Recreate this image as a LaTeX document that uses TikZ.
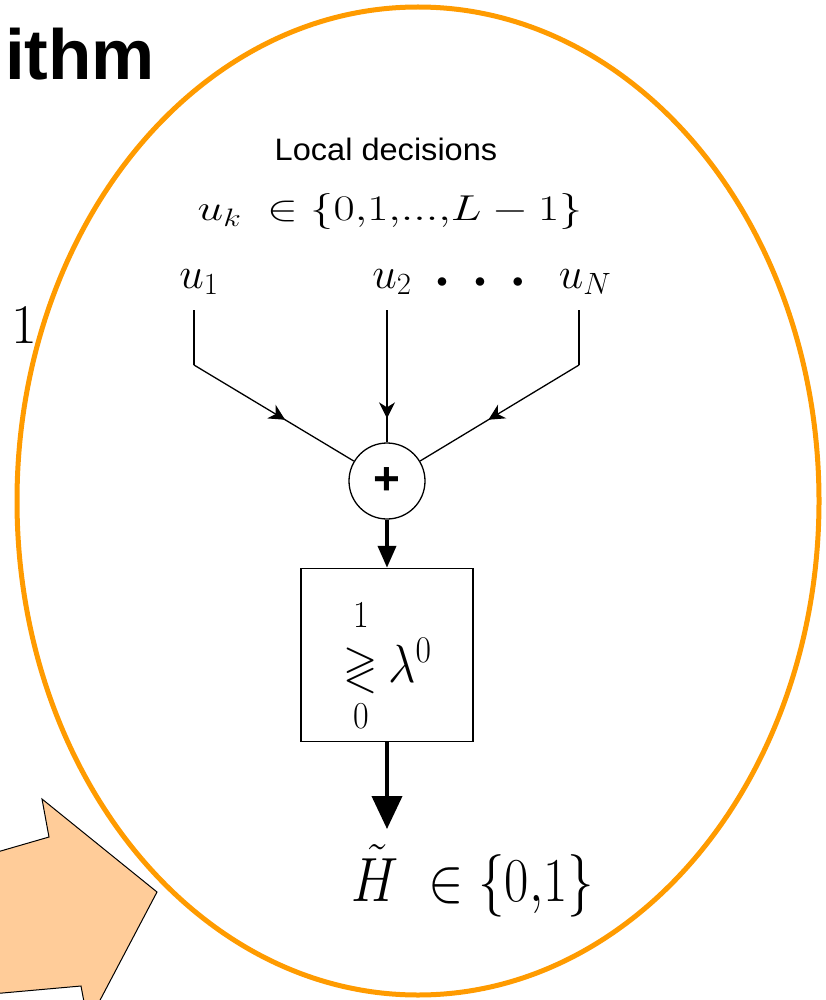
\RequirePackage{fix-cm}
\documentclass[tikz,border=0pt]{standalone}
\usepackage{amsmath,amssymb}
\usepackage{fontspec}
\newfontfamily\arialf{Liberation Sans}
\usetikzlibrary{arrows.meta,decorations.markings}
\definecolor{ringorange}{RGB}{255,155,0}
\definecolor{peach}{RGB}{255,204,153}
\newcommand{\fs}[1]{\fontsize{#1}{#1}\selectfont}
\tikzset{
  thin line/.style={line width=1.3pt},
  midarr/.style={thin line, postaction={decorate},
    decoration={markings, mark=at position #1 with {\arrow{Stealth[length=16pt,width=16pt,inset=5pt]}}}},
  thick arr/.style={line width=4pt},
  sumc/.style={circle, draw, thin line, minimum size=76pt, inner sep=0pt},
  thrbox/.style={draw, line width=1.5pt, minimum width=172pt, minimum height=173pt, inner sep=0pt},
  mathlbl/.style={inner sep=0pt, anchor=base},
}
\begin{document}
\begin{tikzpicture}[x=1pt,y=-1pt]
\useasboundingbox (0,0) rectangle (825,1000);
% background texts
\node[inner sep=0pt, anchor=base west] (title) at (5,80) {\arialf\bfseries\fs{71}ithm};
\node[mathlbl] (one) at (24,343) {\fs{56}1};
% peach block arrow (clipped)
\begin{scope}
\clip (0,0) rectangle (825,1000);
\draw[fill=peach, line width=1pt, line join=miter] (-20,857) -- (49,837) -- (42,799) -- (157,892) -- (88,1023) -- (81,986) -- (-20,995) -- cycle;
\end{scope}
% ring
\draw[ringorange, line width=5pt] (418,501) ellipse [x radius=401, y radius=494];
% texts
\node[mathlbl] (local) at (386,161) {\arialf\fs{31}\scalebox{1.05}[1]{Local decisions}};
\node[mathlbl] (uk) at (390,221) {\fs{36}\scalebox{1.28}[1]{$u_k\;\in\{0{,}1{,}{.}{.}{.}{,}L-1\}$}};
\node[mathlbl] (u1) at (199,288) {\fs{44}$u_1$};
\node[mathlbl] (u2) at (392,288) {\fs{44}$u_2$};
\node[mathlbl] (uN) at (585,288) {\fs{44}$u_N$};
\node[inner sep=0pt] (dots) at (480,283) {\fs{22}$\mathord{\bullet}\hspace{27pt}\mathord{\bullet}\hspace{27pt}\mathord{\bullet}$};
% summing junction
\node[sumc] (sum) at (387,481) {\arialf\bfseries\fs{46}+};
% threshold box
\node[thrbox] (thr) at (387,655) {};
\node[inner sep=0pt] (gl) at (361,669) {\fs{44}\scalebox{1}[1.12]{$\gtrless$}};
\node[inner sep=0pt] (hi) at (361,615) {\fs{34}\scalebox{1}[1.12]{$1$}};
\node[inner sep=0pt] (lo) at (361,716) {\fs{34}\scalebox{1}[1.12]{$0$}};
\node[inner sep=0pt, anchor=base west] (lam) at (388,682) {\fs{48}\scalebox{1}[1.12]{$\lambda^{0}$}};
% output
\node[mathlbl] (out) at (473,901) {\fs{50}\scalebox{1.06}[1.25]{$\tilde{H}\;\in\{0{,}1\}$}};
% connector points
\coordinate (a1) at (194,310);
\coordinate (b1) at (194,365);
\coordinate (a2) at (387,310);
\coordinate (b2) at (387,365);
\coordinate (aN) at (579,310);
\coordinate (bN) at (579,365);
\coordinate (tip) at (387,829);
\draw[thin line] (a1) -- (b1);
\draw[midarr=0.57] (b1) -- (sum);
\draw[thin line] (a2) -- (b2);
\draw[midarr=0.69] (b2) -- (sum);
\draw[thin line] (aN) -- (bN);
\draw[midarr=0.57] (bN) -- (sum);
\draw[thick arr, -{Triangle[length=22pt,width=18pt]}] (sum) -- (thr);
\draw[thick arr, -{Triangle[length=33pt,width=30pt]}] (thr) -- (tip);
\end{tikzpicture}
\end{document}
